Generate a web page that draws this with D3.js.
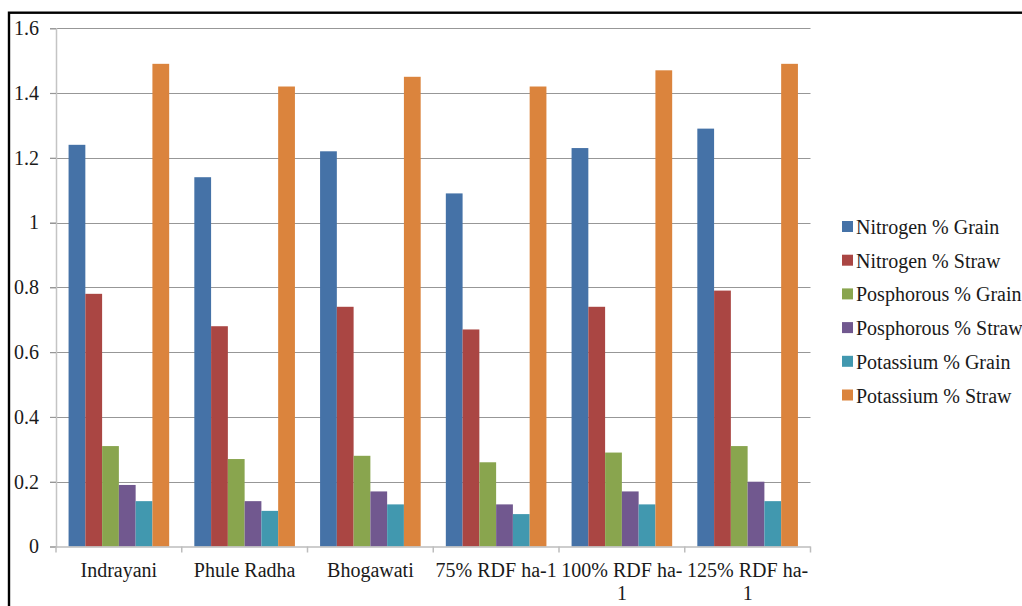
<!DOCTYPE html>
<html>
<head>
<meta charset="utf-8">
<script src="https://cdn.jsdelivr.net/npm/d3@7"></script>
<style>
  html, body { margin: 0; padding: 0; background: #fff; }
  svg { display: block; }
  text { font-family: "Liberation Serif", "Times New Roman", serif; fill: #1a1a1a; }
</style>
</head>
<body>
<svg id="chart" width="1022" height="606"></svg>
<script>
// Nutrient content (%) in grain and straw per variety / fertilizer level
const categories = ["Indrayani", "Phule Radha", "Bhogawati", "75% RDF ha-1", "100% RDF ha-1", "125% RDF ha-1"];
const seriesNames = ["Nitrogen % Grain", "Nitrogen % Straw", "Posphorous % Grain", "Posphorous % Straw", "Potassium % Grain", "Potassium % Straw"];
const nitrogenGrain   = [1.24, 1.14, 1.22, 1.09, 1.23, 1.29];
const nitrogenStraw   = [0.78, 0.68, 0.74, 0.67, 0.74, 0.79];
const phosphorusGrain = [0.31, 0.27, 0.28, 0.26, 0.29, 0.31];
const phosphorusStraw = [0.19, 0.14, 0.17, 0.13, 0.17, 0.20];
const potassiumGrain  = [0.14, 0.11, 0.13, 0.10, 0.13, 0.14];
const potassiumStraw  = [1.49, 1.42, 1.45, 1.42, 1.47, 1.49];
const yTickValues = [0, 0.2, 0.4, 0.6, 0.8, 1, 1.2, 1.4, 1.6];
const yTickLabels = ["0", "0.2", "0.4", "0.6", "0.8", "1", "1.2", "1.4", "1.6"];
const colors = ["#4572A7", "#AA4643", "#89A54E", "#71588F", "#4198AF", "#DB843D"];

const seriesValues = [nitrogenGrain, nitrogenStraw, phosphorusGrain, phosphorusStraw, potassiumGrain, potassiumStraw];
const FONT = "Liberation Serif";

const svg = d3.select("#chart");

// outer frame (only top and left edges fall inside the page)
svg.append("rect")
  .attr("x", 9).attr("y", 12.7)
  .attr("width", 1040).attr("height", 640)
  .attr("fill", "none").attr("stroke", "#000").attr("stroke-width", 2.4);

const plot = { left: 56, right: 810.5, top: 28.2, bottom: 546.5 };

const x0 = d3.scaleBand().domain(categories).range([plot.left, plot.right]).padding(0);
const bw = x0.bandwidth() / 7.5;          // six bars plus a 150% gap
const x1 = d3.scaleBand().domain(seriesNames)
  .range([0.75 * bw, x0.bandwidth() - 0.75 * bw]).padding(0);
const y = d3.scaleLinear().domain([0, 1.6]).range([plot.bottom, plot.top]);

// horizontal gridlines with short outside ticks
svg.append("g").selectAll("line")
  .data(yTickValues.slice(1))
  .join("line")
  .attr("x1", plot.left - 6).attr("x2", plot.right)
  .attr("y1", d => Math.round(y(d)) + 0.5).attr("y2", d => Math.round(y(d)) + 0.5)
  .attr("stroke", "#979797").attr("stroke-width", 1.2);

// y axis
const yAxis = d3.axisLeft(y)
  .tickValues(yTickValues)
  .tickFormat((d, i) => yTickLabels[i])
  .tickSize(6).tickPadding(11);
const gy = svg.append("g").attr("transform", `translate(${plot.left},0)`).call(yAxis);
gy.attr("font-family", FONT).attr("font-size", 20);
gy.select(".domain").attr("stroke", "#c4c4c4").attr("stroke-width", 1.5);
gy.selectAll(".tick line").attr("stroke", "#979797").attr("stroke-width", 1.2);
gy.selectAll(".tick text")
  .style("font-family", FONT).attr("font-size", 20).attr("fill", "#1a1a1a");

// bars
const groups = svg.append("g").selectAll("g")
  .data(categories)
  .join("g")
  .attr("transform", d => `translate(${x0(d)},0)`);

groups.selectAll("rect")
  .data((c, ci) => seriesNames.map((s, si) => ({ s, si, v: seriesValues[si][ci] })))
  .join("rect")
  .attr("x", d => x1(d.s))
  .attr("width", x1.bandwidth())
  .attr("y", d => y(d.v))
  .attr("height", d => y(0) - y(d.v))
  .attr("fill", d => colors[d.si]);

// x axis line and category separators
const gx = svg.append("g");
gx.append("line")
  .attr("x1", plot.left).attr("x2", plot.right)
  .attr("y1", plot.bottom + 0.5).attr("y2", plot.bottom + 0.5)
  .attr("stroke", "#bdbdbd").attr("stroke-width", 1.5);
const boundaries = categories.map(c => x0(c)).concat([plot.right]);
gx.selectAll("line.sep")
  .data(boundaries)
  .join("line").attr("class", "sep")
  .attr("x1", d => d).attr("x2", d => d)
  .attr("y1", plot.bottom).attr("y2", plot.bottom + 6)
  .attr("stroke", "#bdbdbd").attr("stroke-width", 1.5);

// category labels, wrapped to the band width (break after spaces / hyphens)
const maxW = x0.bandwidth();
categories.forEach(c => {
  const cx = x0(c) + x0.bandwidth() / 2;
  const t = gx.append("text")
    .attr("x", cx).attr("y", 577)
    .attr("text-anchor", "middle")
    .style("font-family", FONT)
    .attr("font-size", 20);
  const tokens = c.match(/[^\s-]+-?\s*|\s+/g);
  let lines = [], cur = "";
  tokens.forEach(tok => {
    const trial = cur + tok;
    t.text(trial.trim());
    if (cur && t.node().getComputedTextLength() > maxW) {
      lines.push(cur.trim());
      cur = tok;
    } else {
      cur = trial;
    }
  });
  lines.push(cur.trim());
  t.text(null);
  lines.forEach((ln, i) => {
    t.append("tspan").attr("x", cx).attr("dy", i === 0 ? 0 : 23).text(ln);
  });
});

// legend
const legend = svg.append("g").attr("transform", "translate(842,227)");
const items = legend.selectAll("g")
  .data(seriesNames)
  .join("g")
  .attr("transform", (d, i) => `translate(0,${i * 33.7})`);
items.append("rect")
  .attr("x", 0).attr("y", -6).attr("width", 11).attr("height", 11)
  .attr("fill", (d, i) => colors[i]);
items.append("text")
  .attr("x", 14).attr("y", 0).attr("dy", "0.35em")
  .style("font-family", FONT)
  .attr("font-size", 20)
  .text(d => d);
</script>
</body>
</html>
